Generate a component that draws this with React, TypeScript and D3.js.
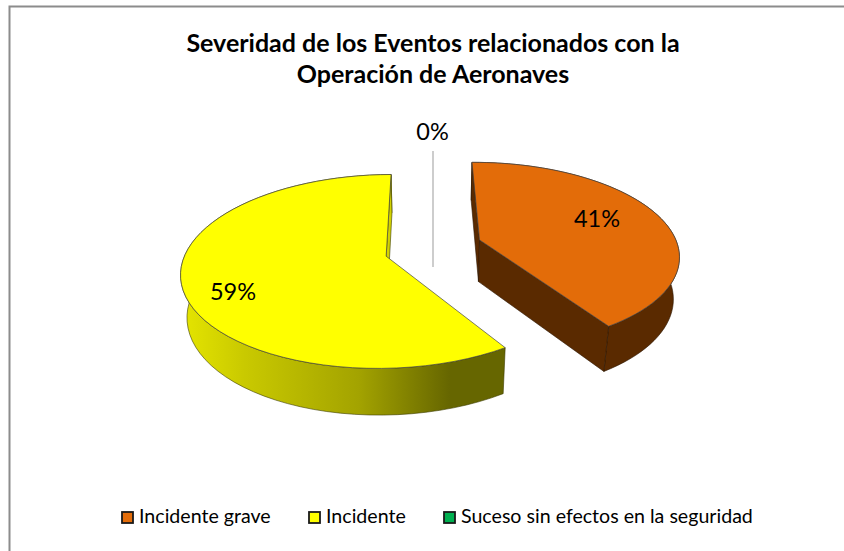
import React from "react";
import * as d3 from "d3";

const categories = ["Incidente grave", "Incidente", "Suceso sin efectos en la seguridad"];
const seriesValues = [41, 59, 0];
const pctLabels = ["41%", "59%", "0%"];
const topColors = ["#e36c09", "#ffff00", "#00b050"];
const titleLines = ["Severidad de los Eventos relacionados con la", "Operación de Aeronaves"];

const FONT = "Lato, Carlito, Calibri, sans-serif";
const CX = 433.5, CY = 248, R = 199, B = 92, P = 0.155, Q = 0.025, D = 43, EXPL = 0.245;

type Pt = [number, number];
const project = (u: number, v: number, z: number): Pt => {
  const w = 1 - P * v + Q * z;
  return [CX + (R * u) / w, CY + (B * v + D * z) / w];
};

const pie = d3.pie<number>().sort(null).startAngle((-0.5 * Math.PI) / 180).endAngle((359.5 * Math.PI) / 180);
const arcs = pie(seriesValues);
const line = d3.line<Pt>();

function geom(i: number) {
  const a = arcs[i];
  const mid = (a.startAngle + a.endAngle) / 2;
  const ou = EXPL * Math.sin(mid), ov = -EXPL * Math.cos(mid) * 1.25;
  const angles = d3.range(0, 61).map((k) => a.startAngle + ((a.endAngle - a.startAngle) * k) / 60);
  const rim = (z: number) => angles.map((t) => project(ou + Math.sin(t), ov - Math.cos(t), z));
  const apex = (z: number) => project(ou, ov, z);
  return { rim, apex };
}

const shadeX = d3.scaleLinear().domain([0, 1]).range([180, 505]);

export default function App() {
  const order = [1, 0];
  return (
    <svg width={844} height={551} style={{ position: "absolute", left: 0, top: 0, background: "#fff" }}>
      <defs>
        <linearGradient id="yw" gradientUnits="userSpaceOnUse" x1={shadeX(0)} x2={shadeX(1)} y1={0} y2={0}>
          <stop offset="0" stopColor="#e6e600" />
          <stop offset="0.2" stopColor="#c9c900" />
          <stop offset="0.55" stopColor="#a3a300" />
          <stop offset="0.83" stopColor="#666600" />
          <stop offset="1" stopColor="#666600" />
        </linearGradient>
      </defs>
      <path d="M9.5,551V6.5H844" fill="none" stroke="#8c8c8c" strokeWidth={2} />
      {titleLines.map((t, i) => (
        <text key={t} x={433} y={52 + i * 31} textAnchor="middle" fontFamily={FONT} fontWeight={700} fontSize={25} fill="#000">{t}</text>
      ))}
      <line x1={433} x2={433} y1={151} y2={267} stroke="#bdbdbd" strokeWidth={1.5} />
      {order.map((i) => {
        const g = geom(i);
        const top = g.rim(0), bot = g.rim(1);
        const wallFill = i === 1 ? "url(#yw)" : "#5a2a00";
        const radialFill = i === 1 ? "#d2d200" : "#5a2a00";
        const stroke = i === 1 ? "#3c3c00" : "#2a1400";
        const outer = [...top, ...[...bot].reverse()];
        const w1: Pt[] = [g.apex(0), top[0], bot[0], g.apex(1)];
        const w2: Pt[] = [g.apex(0), top[60], bot[60], g.apex(1)];
        const face: Pt[] = [g.apex(0), ...top];
        return (
          <g key={i}>
            <path d={line(outer) + "Z"} fill={wallFill} stroke={stroke} strokeWidth={0.6} />
            {i === 0 && <path d={line(w1) + "Z"} fill={wallFill} stroke={stroke} strokeWidth={0.6} />}
            <path d={line(w2) + "Z"} fill={radialFill} stroke={stroke} strokeWidth={0.6} />
            <path d={line(face) + "Z"} fill={topColors[i]} stroke="#444" strokeWidth={0.7} />
          </g>
        );
      })}
      <text x={597} y={227} textAnchor="middle" fontFamily={FONT} fontSize={23.5} fill="#000">{pctLabels[0]}</text>
      <text x={233} y={300} textAnchor="middle" fontFamily={FONT} fontSize={23.5} fill="#000">{pctLabels[1]}</text>
      <text x={432.5} y={140} textAnchor="middle" fontFamily={FONT} fontSize={23.5} fill="#000">{pctLabels[2]}</text>
      {categories.map((c, i) => {
        const sx = [121, 308, 443][i];
        return (
          <g key={c}>
            <rect x={sx + 1} y={512} width={11} height={11} fill={topColors[i]} stroke="#1a1a1a" strokeWidth={1.8} />
            <text x={sx + 18} y={523} fontFamily={FONT} fontSize={19.6} fill="#000">{c}</text>
          </g>
        );
      })}
    </svg>
  );
}
